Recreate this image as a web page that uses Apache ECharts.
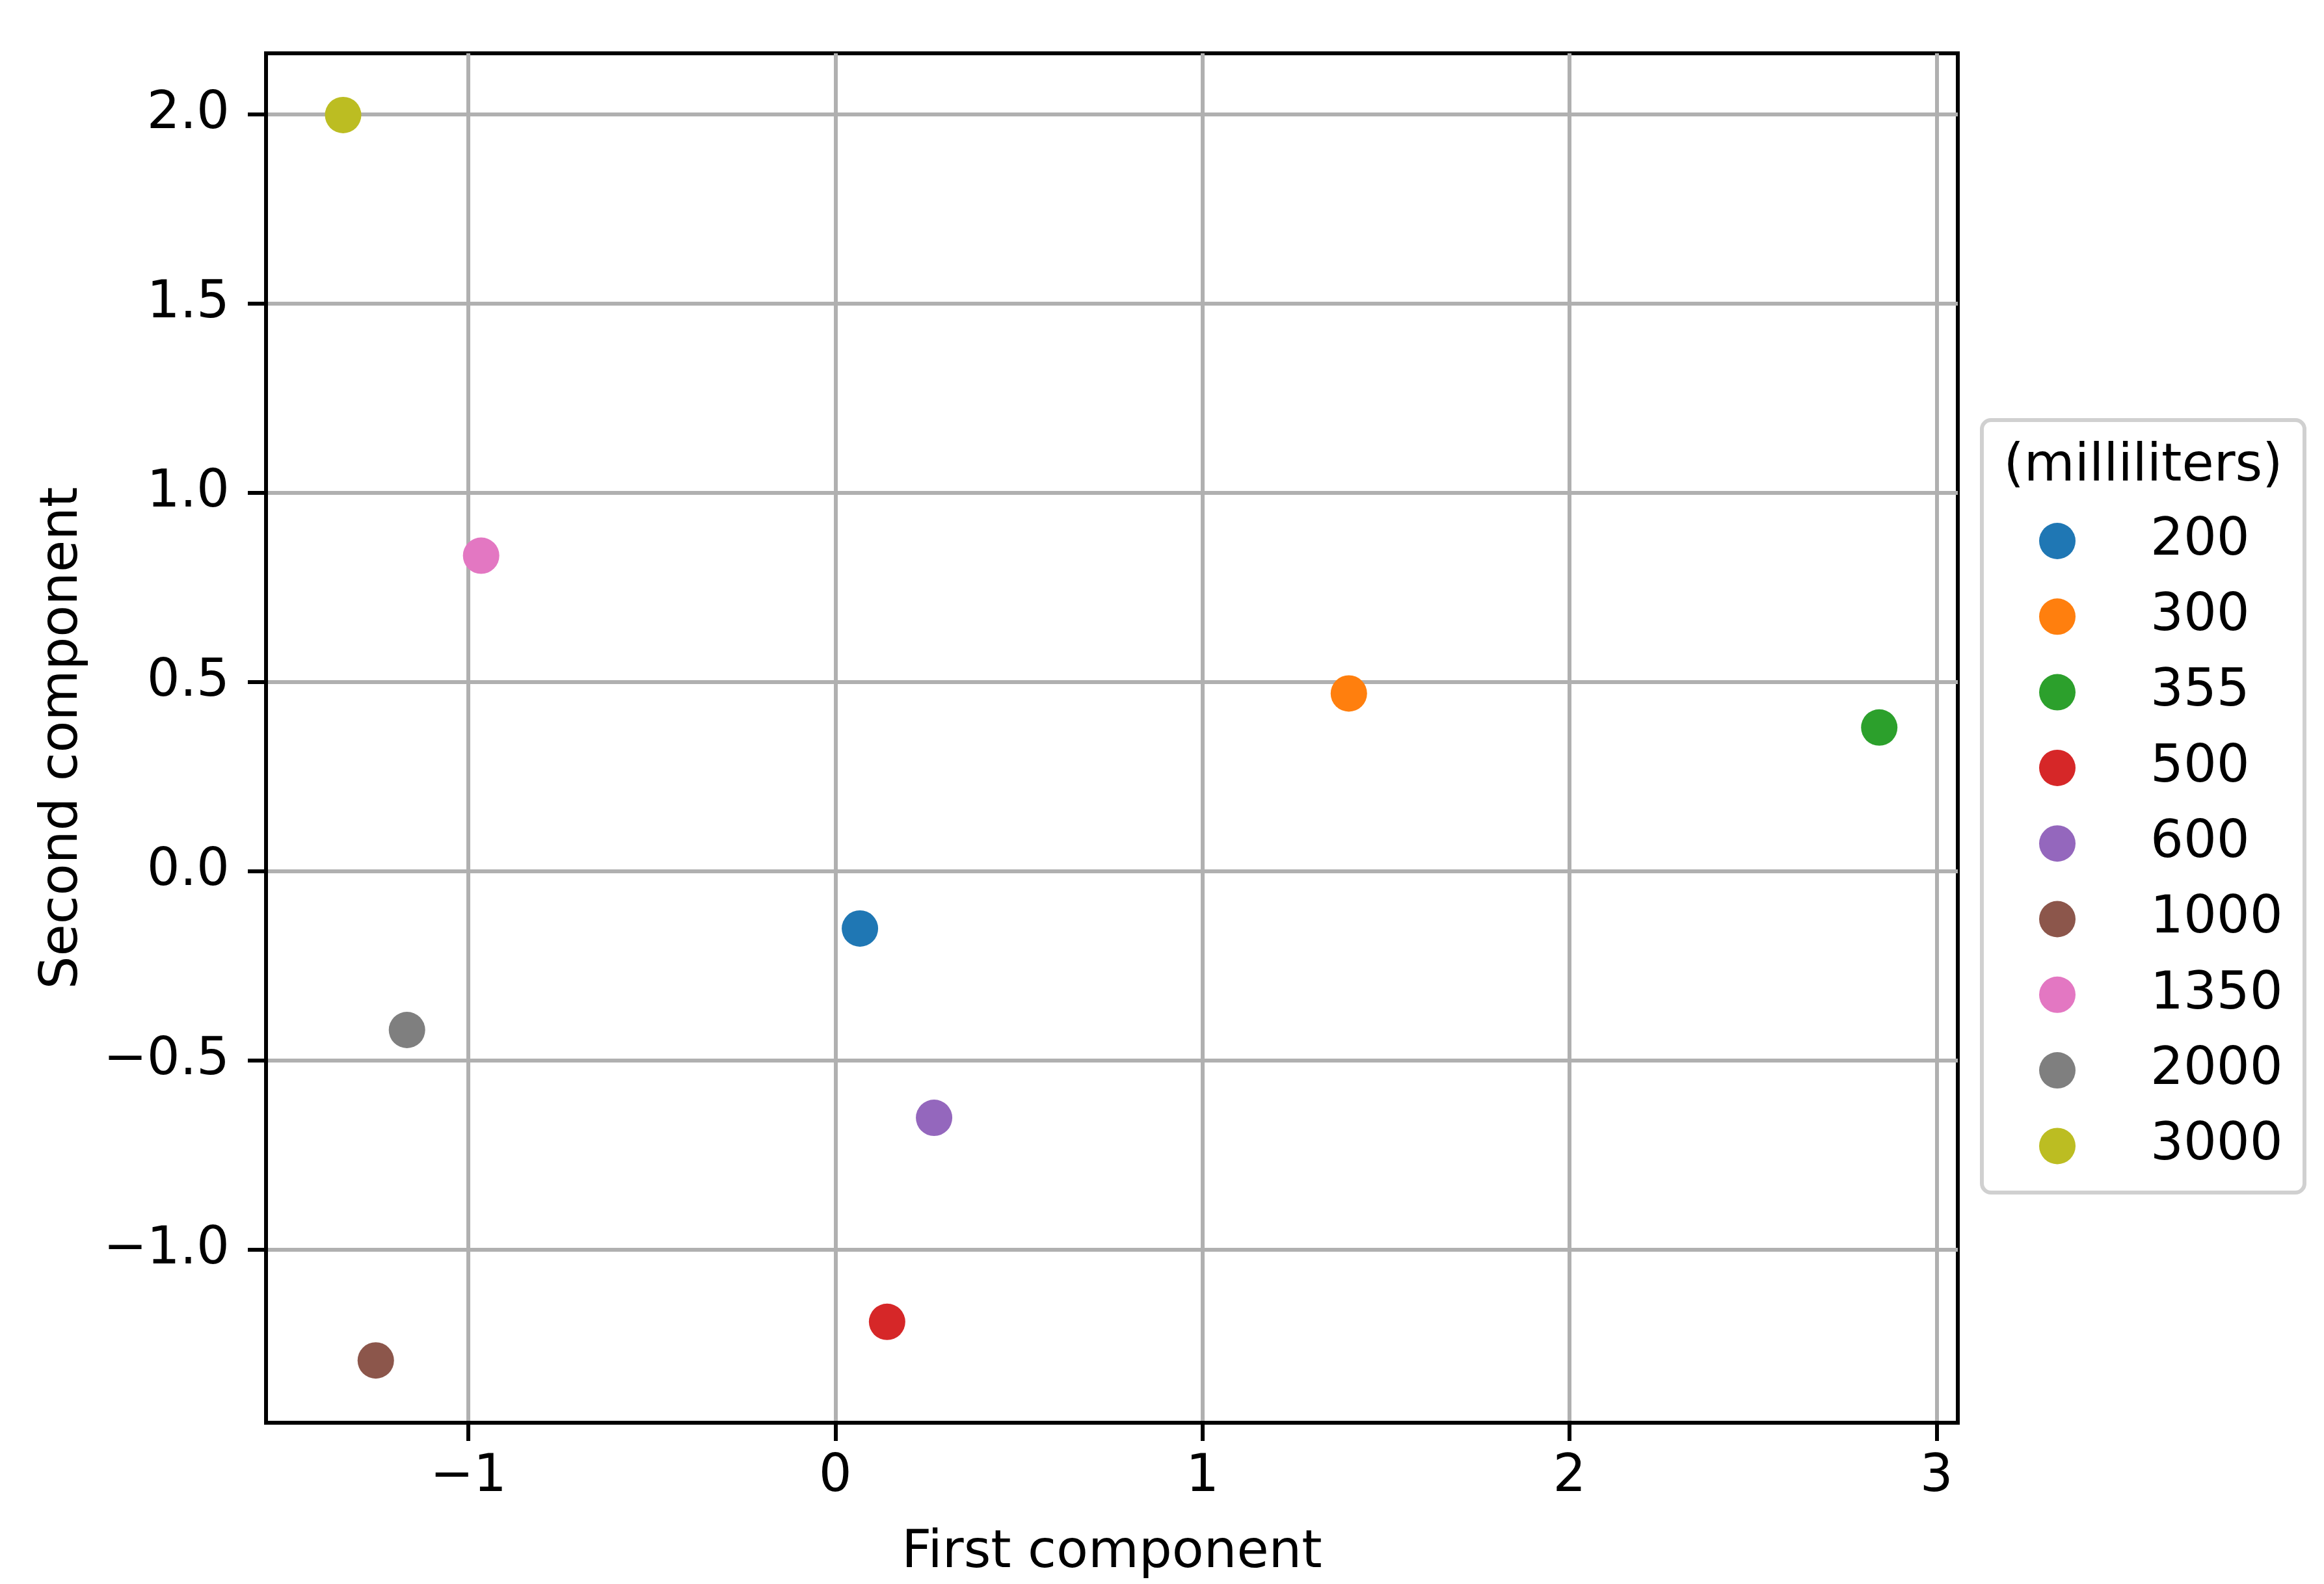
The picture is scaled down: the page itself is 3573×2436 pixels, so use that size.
<!DOCTYPE html>
<html>
<head>
<meta charset="utf-8">
<script src="https://cdn.jsdelivr.net/npm/echarts@6/dist/echarts.min.js"></script>
<style>
html,body{margin:0;padding:0;background:#fff;}
#c{width:3573px;height:2436px;}
</style>
</head>
<body>
<div id="c"></div>
<script>
const labels = ['200','300','355','500','600','1000','1350','2000','3000'];
const firstComp = [0.067, 1.399, 2.844, 0.141, 0.269, -1.252, -0.965, -1.167, -1.341];
const secondComp = [-0.151, 0.470, 0.380, -1.190, -0.651, -1.292, 0.834, -0.419, 1.998];
const colors = ['#1f77b4','#ff7f0e','#2ca02c','#d62728','#9467bd','#8c564b','#e377c2','#7f7f7f','#bcbd22'];
const xTicks = [-1, 0, 1, 2, 3];
const yTicks = [-1.0, -0.5, 0.0, 0.5, 1.0, 1.5, 2.0];
const legendTitle = '(milliliters)';
const xName = 'First component';
const yName = 'Second component';

const FONT = 'DejaVu Sans';
const minus = v => (v < 0 ? '\u2212' : '');

const chart = echarts.init(document.getElementById('c'), null, {renderer: 'canvas'});
const series = labels.map((l, i) => ({
  name: l,
  type: 'scatter',
  data: [[firstComp[i], secondComp[i]]],
  symbol: 'circle',
  symbolSize: 56,
  itemStyle: {color: colors[i], opacity: 1},
  emphasis: {disabled: true},
  animation: false
}));

chart.setOption({
  animation: false,
  backgroundColor: '#ffffff',
  grid: {left: 409, top: 82, width: 2601, height: 2106, show: true, borderColor: '#000', borderWidth: 6, containLabel: false},
  xAxis: {
    type: 'value', min: -1.551, max: 3.058, scale: true,
    name: xName, nameLocation: 'middle', nameGap: 161,
    nameTextStyle: {fontFamily: FONT, fontSize: 80, color: '#000'},
    axisLine: {show: true, onZero: false, lineStyle: {color: '#000', width: 6}},
    axisTick: {show: true, inside: false, length: 28, lineStyle: {color: '#000', width: 6}, customValues: xTicks},
    axisLabel: {show: true, margin: 44, fontFamily: FONT, fontSize: 80, color: '#000', customValues: xTicks,
      formatter: v => minus(v) + Math.abs(v).toFixed(0)},
    splitLine: {show: true, lineStyle: {color: '#b0b0b0', width: 6}}
  },
  yAxis: {
    type: 'value', min: -1.4565, max: 2.161, scale: true,
    name: yName, nameLocation: 'middle', nameGap: 272, nameRotate: 90,
    nameTextStyle: {fontFamily: FONT, fontSize: 80, color: '#000'},
    axisLine: {show: true, onZero: false, lineStyle: {color: '#000', width: 6}},
    axisTick: {show: true, inside: false, length: 28, lineStyle: {color: '#000', width: 6}, customValues: yTicks},
    axisLabel: {show: true, margin: 56, fontFamily: FONT, fontSize: 80, color: '#000', customValues: yTicks,
      formatter: v => minus(v) + Math.abs(v).toFixed(1)},
    splitLine: {show: true, lineStyle: {color: '#b0b0b0', width: 6}}
  },
  legend: {
    show: true, orient: 'vertical', left: 3130, top: 787,
    itemWidth: 56, itemHeight: 56, itemGap: 36.3,
    icon: 'circle', selectedMode: false,
    data: labels,
    formatter: n => '{a|' + n + '}',
    textStyle: {
      fontFamily: FONT, fontSize: 80, color: '#000',
      rich: {a: {fontFamily: FONT, fontSize: 80, color: '#000', padding: [0, 0, 0, 110], lineHeight: 56}}
    }
  },
  graphic: [
    {type: 'rect', z: -1, shape: {x: 3047, y: 646, width: 496, height: 1188, r: 14},
      style: {fill: '#fff', stroke: '#d0d0d0', lineWidth: 6}},
    {type: 'text', z: 10, x: 3295, y: 718,
      style: {text: legendTitle, fontFamily: FONT, fontSize: 80, fill: '#000', align: 'center', verticalAlign: 'middle'}}
  ],
  series: series
});
</script>
</body>
</html>
